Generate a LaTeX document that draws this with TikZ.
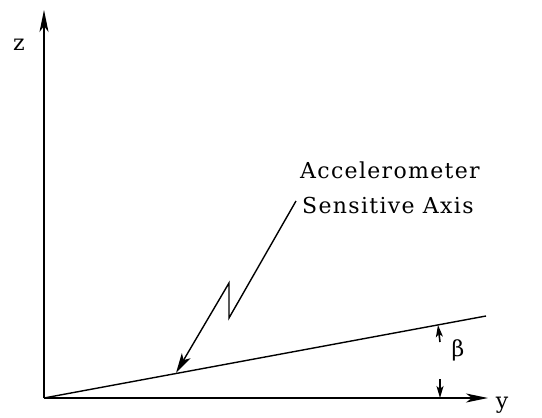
\documentclass[tikz,border=0pt]{standalone}
\usepackage{fontspec}
\setmainfont{DejaVu Serif}
\newfontfamily\lblfont[LetterSpace=6]{DejaVu Serif}
\usetikzlibrary{arrows.meta}
\begin{document}
\begin{tikzpicture}[x=1pt,y=-1pt,
  axisline/.style={line width=1.8pt,-{Stealth[length=22pt,width=9pt,inset=6pt]}},
  senseline/.style={line width=1.4pt},
  pointer/.style={line width=1.4pt,-{Stealth[length=20pt,width=10pt,inset=5pt]}},
  small/.style={line width=1.6pt,-{Stealth[length=12pt,width=7pt,inset=3pt]}},
  lbl/.style={font=\lblfont\fontsize{22}{26}\selectfont, inner sep=0pt, anchor=base west},
  axlbl/.style={font=\fontsize{22}{26}\selectfont, inner sep=0pt}]
\useasboundingbox (0,0) rectangle (542,418);
\coordinate (O) at (44,398);
\coordinate (Z) at (44,10);
\coordinate (Y) at (488,398);
\coordinate (S) at (486,316);
\draw[axisline] (O) -- (Z);
\draw[axisline] (O) -- (Y);
\draw[senseline] (O) -- (S);
\node[axlbl] (zl) at (19,45) {z};
\node[axlbl] (yl) at (502,405) {y};
\node[axlbl] (bl) at (458,350) {β};
\node[lbl] (t1) at (300,178) {Accelerometer};
\node[lbl] (t2) at (302,213) {Sensitive Axis};
\coordinate (p0) at (296,201);
\coordinate (p1) at (229,318);
\coordinate (p2) at (229,283);
\coordinate (p3) at (176,373);
\draw[pointer] (p0) -- (p1) -- (p2) -- (p3);
\coordinate (b1) at (440,342);
\coordinate (b1t) at (438,325);
\coordinate (b2) at (440,379);
\coordinate (b2t) at (440,398);
\draw[small] (b1) -- (b1t);
\draw[small] (b2) -- (b2t);
\end{tikzpicture}
\end{document}
